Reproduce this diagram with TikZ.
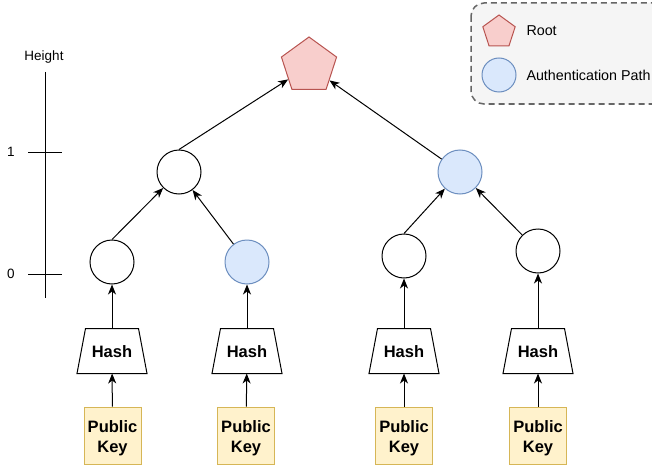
\documentclass[tikz,border=0pt]{standalone}
\usepackage{fontspec}
\setmainfont{Liberation Sans}
\usetikzlibrary{shapes.geometric,arrows.meta}
\definecolor{rootfill}{HTML}{F8CECC}
\definecolor{rootdraw}{HTML}{B85450}
\definecolor{authfill}{HTML}{DAE8FC}
\definecolor{authdraw}{HTML}{6C8EBF}
\definecolor{keyfill}{HTML}{FFF2CC}
\definecolor{keydraw}{HTML}{D6B656}
\definecolor{legfill}{HTML}{F5F5F5}
\definecolor{legdraw}{HTML}{666666}
\begin{document}
\begin{tikzpicture}[x=1pt,y=-1pt,line width=1pt,
  hnode/.style={circle,draw=black,fill=white,minimum size=44pt,inner sep=0pt},
  authnode/.style={hnode,draw=authdraw,fill=authfill},
  rootnode/.style={regular polygon,regular polygon sides=5,draw=rootdraw,fill=rootfill,minimum size=58pt,inner sep=0pt},
  hashbox/.style={rectangle,minimum width=69pt,minimum height=44pt,inner sep=0pt},
  hashtext/.style={inner sep=0pt,font=\fontsize{16.5}{20}\selectfont\bfseries},
  keybox/.style={rectangle,draw=keydraw,fill=keyfill,minimum width=57pt,minimum height=57pt,inner sep=0pt},
  keytext/.style={inner sep=0pt,align=center,font=\fontsize{16.5}{20}\selectfont\bfseries},
  arr/.style={-{Stealth[length=10pt,width=8pt,inset=3pt]}},
  legtext/.style={anchor=west,inner sep=0pt,font=\fontsize{14.3}{17}\selectfont},
  axtext/.style={inner sep=0pt,font=\fontsize{13.5}{16}\selectfont}
]
\useasboundingbox (0,0) rectangle (652,468);
\fill[white] (0,0) rectangle (652,468);

% legend
\draw[draw=legdraw,fill=legfill,line width=1.5pt,dash pattern=on 6pt off 4pt,rounded corners=13pt] (471,3) rectangle (668,104);
\node[rootnode,minimum size=34pt] (legroot) at (499,32) {};
\node[legtext] (legroottxt) at (526,31) {Root};
\node[authnode,minimum size=34pt] (legauth) at (499,75) {};
\node[legtext] (legauthtxt) at (526,75) {Authentication Path};

% height axis
\draw (45,72) -- (45,298);
\draw (28,152) -- (62,152);
\draw (28,274) -- (62,274);
\node[axtext] (hlabel) at (44,57) {Height};
\node[axtext] (one) at (11,152) {1};
\node[axtext] (zero) at (11,274) {0};

% tree
\node[rootnode] (root) at (309,66) {};
\node[hnode] (a1) at (179,172) {};
\node[authnode] (a2) at (460,172) {};
\node[hnode] (b1) at (112,262) {};
\node[authnode] (b2) at (247,262) {};
\node[hnode] (b3) at (404,256) {};
\node[hnode] (b4) at (538,251) {};

\node[hashbox] (h1) at (112,351) {};
\node[hashbox] (h2) at (247,351) {};
\node[hashbox] (h3) at (404,351) {};
\node[hashbox] (h4) at (538,351) {};
\foreach \i in {1,2,3,4} {
  \draw[fill=white] ([xshift=8.5pt]h\i.north west) -- ([xshift=-8.5pt]h\i.north east) -- (h\i.south east) -- (h\i.south west) -- cycle;
  \node[hashtext] (ht\i) at ([yshift=-1pt]h\i.center) {Hash};
}

\node[keybox] (k1) at (112.5,435.5) {};
\node[keybox] (k2) at (246,435.5) {};
\node[keybox] (k3) at (404,435.5) {};
\node[keybox] (k4) at (538,435.5) {};

\foreach \i in {1,2,3,4} {
  \node[keytext] (kt\i) at ([yshift=-2.5pt]k\i.center) {Public\\Key};
  \draw[arr] (k\i) -- (h\i);
}
\draw[arr] (h1.north) -- (b1);
\draw[arr] (h2.north) -- (b2);
\draw[arr] (h3.north) -- (b3);
\draw[arr] (h4.north) -- (b4);

\draw[arr] (b1.north) -- (a1);
\draw[arr] (b2) -- (a1);
\draw[arr] (b3.north) -- (a2);
\draw[arr] (b4) -- (a2);

\draw[arr] (a1.north) -- (root);
\draw[arr] (a2) -- (root);
\end{tikzpicture}
\end{document}
